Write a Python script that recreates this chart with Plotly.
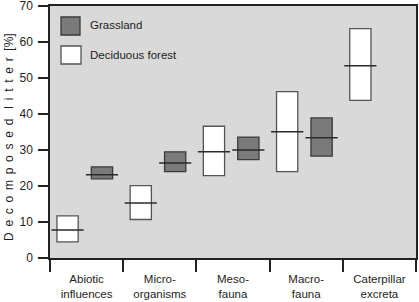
import plotly.graph_objects as go

categories = ["Abiotic<br>influences", "Micro-<br>organisms", "Meso-<br>fauna", "Macro-<br>fauna", "Caterpillar<br>excreta"]

forest_low = [4.5, 10.7, 22.9, 24.0, 43.8]
forest_med = [7.8, 15.3, 29.5, 35.1, 53.4]
forest_high = [11.7, 20.1, 36.6, 46.2, 63.7]

grass_low = [22.0, 24.0, 27.3, 28.3, None]
grass_med = [23.1, 26.4, 30.0, 33.4, None]
grass_high = [25.3, 29.5, 33.6, 38.9, None]

y_ticks = [0, 10, 20, 30, 40, 50, 60, 70]

F_OFF, G_OFF = 0.24, 0.71
BOX_W, MED_W = 0.29, 0.44

fig = go.Figure()

def add_group(low, med, high, off, fill, line):
    xs, bases, heights = [], [], []
    mx, my = [], []
    for i, (lo, me, hi) in enumerate(zip(low, med, high)):
        if lo is None:
            continue
        xc = i + off
        xs.append(xc)
        bases.append(lo)
        heights.append(hi - lo)
        mx += [xc - MED_W / 2, xc + MED_W / 2, None]
        my += [me, me, None]
    fig.add_trace(go.Bar(x=xs, y=heights, base=bases, width=BOX_W,
                         marker=dict(color=fill, line=dict(color=line, width=1.3)),
                         showlegend=False, hoverinfo="skip"))
    fig.add_trace(go.Scatter(x=mx, y=my, mode="lines",
                             line=dict(color="#2a2a2a", width=1.5),
                             showlegend=False, hoverinfo="skip", cliponaxis=False))

add_group(forest_low, forest_med, forest_high, F_OFF, "#ffffff", "#555555")
add_group(grass_low, grass_med, grass_high, G_OFF, "#7a7a7a", "#3a3a3a")

font = dict(family="Liberation Sans, Arial, sans-serif", size=12, color="#1e1e1e")

TOP, BOT = 6, 44
PH = 302 - TOP - BOT
Y0 = 302 - BOT

fig.update_layout(
    width=419, height=302,
    margin=dict(l=50, r=3, t=TOP, b=BOT, autoexpand=False),
    paper_bgcolor="white",
    plot_bgcolor="#d9d9d9",
    font=font,
    barmode="overlay",
    xaxis=dict(range=[0, 5], tickvals=[i + 0.5 for i in range(5)], ticktext=categories,
               ticks="outside", ticklen=9, tickcolor="rgba(0,0,0,0)",
               minor=dict(tickvals=[0, 1, 2, 3, 4, 5], ticks="outside", ticklen=12,
                          tickwidth=1.5, tickcolor="#222222"),
               showline=True, linecolor="#222222", linewidth=1.5, mirror=True,
               showgrid=False, zeroline=False, fixedrange=True, automargin=False,
               tickfont=dict(size=11.5)),
    yaxis=dict(range=[0, 70], tickvals=y_ticks, ticks="outside", ticklen=10,
               tickwidth=1.5, tickcolor="#222222",
               showline=True, linecolor="#222222", linewidth=1.5, mirror=True,
               showgrid=False, zeroline=False, ticklabelstandoff=3, automargin=False,
               ticklabeloverflow="allow", fixedrange=True,
               tickfont=dict(size=12)),
)

# legend (manual, as in the original)
def px2paper(px, py):
    return (px - 50) / 366, (Y0 - py) / PH

x0, y0 = px2paper(61, 17); x1, y1 = px2paper(80, 35)
fig.add_shape(type="rect", xref="paper", yref="paper", x0=x0, y0=y1, x1=x1, y1=y0,
              fillcolor="#7a7a7a", line=dict(color="#3a3a3a", width=1.3))
x0, y0 = px2paper(61, 46); x1, y1 = px2paper(81, 64)
fig.add_shape(type="rect", xref="paper", yref="paper", x0=x0, y0=y1, x1=x1, y1=y0,
              fillcolor="#ffffff", line=dict(color="#555555", width=1.3))
tx, ty = px2paper(88, 25)
fig.add_annotation(text="Grassland", xref="paper", yref="paper", x=tx, y=ty,
                   xanchor="left", yanchor="middle", showarrow=False, font=dict(size=11.5))
tx, ty = px2paper(88, 55)
fig.add_annotation(text="Deciduous forest", xref="paper", yref="paper", x=tx, y=ty,
                   xanchor="left", yanchor="middle", showarrow=False, font=dict(size=11.5))

gap = " \u2009"
y_title = gap.join("Decomposed") + "   " + gap.join("litter") + "  [%]"
fig.add_annotation(text=y_title, xref="paper", yref="paper",
                   x=-41 / 366, y=(Y0 - 137) / PH, textangle=-90,
                   xanchor="center", yanchor="middle", showarrow=False, font=dict(size=12))

fig.write_html("out.html", config={"displayModeBar": False},
               post_script="document.body.style.margin='0px';")
